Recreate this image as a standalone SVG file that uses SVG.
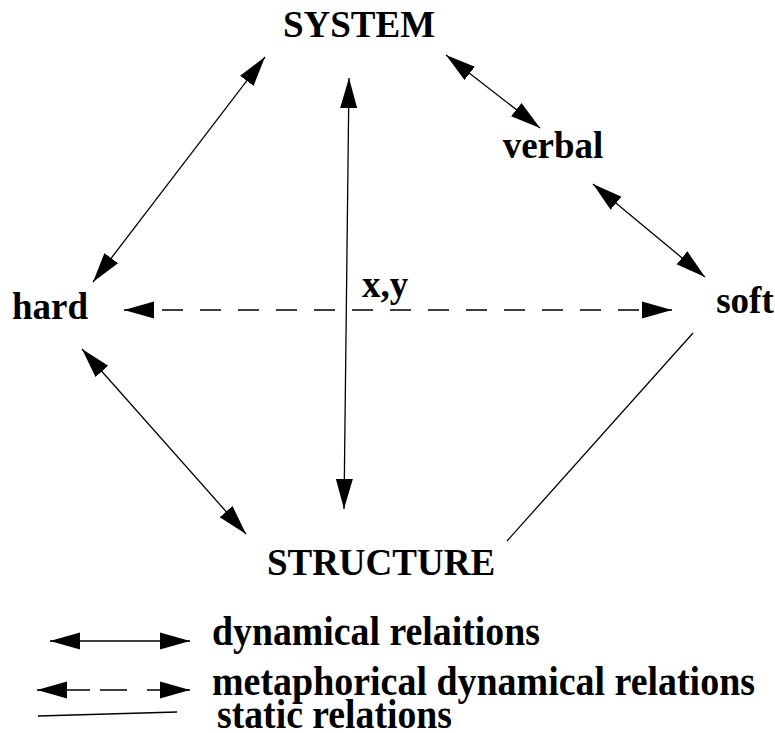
<svg xmlns="http://www.w3.org/2000/svg" width="775" height="733" viewBox="0 0 775 733">
<style>
  .lbl { font-family: "Liberation Serif", "Times New Roman", serif; font-weight: bold; font-size: 37px; fill: #000; }
  .leg { font-family: "Liberation Serif", "Times New Roman", serif; font-weight: bold; font-size: 43px; fill: #000; }
  .c { stroke: #000; stroke-width: 1.3; fill: none; }
  .dyn { marker-start: url(#ah); marker-end: url(#ah); }
  .dash { stroke-dasharray: 21 17; }
</style>
<defs>
  <marker id="ah" markerUnits="userSpaceOnUse" markerWidth="32" markerHeight="20" refX="30" refY="10" orient="auto-start-reverse" viewBox="0 0 32 20">
    <path d="M0,1.5 L30,10 L0,18.5 Z" fill="#000"/>
  </marker>
</defs>
<rect width="775" height="733" fill="#fff"/>
<g id="connectors">
  <line class="c dyn" x1="265" y1="57" x2="93" y2="282"/>
  <line class="c dyn" x1="349" y1="78" x2="344" y2="509"/>
  <line class="c dyn" x1="446" y1="55" x2="540" y2="128"/>
  <line class="c dyn" x1="593" y1="184" x2="705" y2="277"/>
  <line class="c dyn" x1="82" y1="349" x2="246" y2="534"/>
  <line class="c dyn dash" x1="124" y1="310" x2="672" y2="310"/>
  <line class="c" x1="693" y1="333" x2="507" y2="541"/>
</g>
<g id="node-system"><text class="lbl" x="359" y="37" text-anchor="middle">SYSTEM</text></g>
<g id="node-verbal"><text class="lbl" x="553" y="158" text-anchor="middle">verbal</text></g>
<g id="node-hard"><text class="lbl" x="50" y="319" text-anchor="middle">hard</text></g>
<g id="node-soft"><text class="lbl" x="745" y="313" text-anchor="middle">soft</text></g>
<g id="node-xy"><text class="lbl" x="385" y="297" text-anchor="middle">x,y</text></g>
<g id="node-structure"><text class="lbl" x="381" y="575" text-anchor="middle">STRUCTURE</text></g>
<g id="legend">
  <line class="c dyn" x1="50" y1="641" x2="190" y2="641"/>
  <text class="leg" x="212" y="645" textLength="328" lengthAdjust="spacingAndGlyphs">dynamical relaitions</text>
  <line class="c dyn" x1="37" y1="690" x2="190" y2="690" stroke-dasharray="53 10 27 20 43"/>
  <text class="leg" x="212" y="695" textLength="543" lengthAdjust="spacingAndGlyphs">metaphorical dynamical relations</text>
  <line class="c" x1="38" y1="716" x2="177" y2="712"/>
  <text class="leg" x="217" y="728" textLength="235" lengthAdjust="spacingAndGlyphs">static relations</text>
</g>
</svg>
